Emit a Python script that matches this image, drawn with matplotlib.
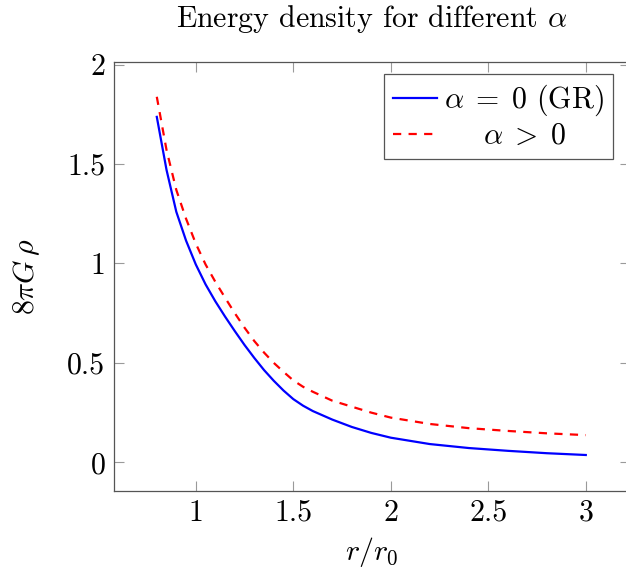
import matplotlib
matplotlib.use("Agg")
import matplotlib.pyplot as plt

plt.rcParams['font.family'] = ['cmr10', 'DejaVu Serif']
plt.rcParams['mathtext.fontset'] = 'cm'
plt.rcParams['axes.formatter.use_mathtext'] = True

# data
r = [0.8, 0.85, 0.9, 0.95, 1.0, 1.05, 1.1, 1.15, 1.2, 1.25, 1.3, 1.35, 1.4,
     1.45, 1.5, 1.55, 1.6, 1.7, 1.8, 1.9, 2.0, 2.2, 2.4, 2.6, 2.8, 3.0]
rho_gr = [1.737, 1.47, 1.26, 1.115, 0.995, 0.895, 0.81, 0.733, 0.66, 0.59,
          0.525, 0.464, 0.41, 0.361, 0.318, 0.285, 0.258, 0.215, 0.178, 0.148,
          0.124, 0.092, 0.072, 0.058, 0.046, 0.037]
rho_alpha = [1.838, 1.57, 1.37, 1.225, 1.10, 0.995, 0.908, 0.828, 0.75, 0.677,
             0.61, 0.552, 0.50, 0.455, 0.412, 0.38, 0.355, 0.31, 0.28, 0.25,
             0.225, 0.193, 0.172, 0.158, 0.146, 0.137]
xticks = [1, 1.5, 2, 2.5, 3]
xticklabels = ['1', '1.5', '2', '2.5', '3']
yticks = [0, 0.5, 1, 1.5, 2]
yticklabels = ['0', '0.5', '1', '1.5', '2']
labels = [r'$\alpha\;=\;0$ (GR)', r'$\alpha\;>\;0$']

W, H = 626, 581
fig = plt.figure(figsize=(W / 100, H / 100), dpi=100)
xmin, xmax = 0.579, 3.225
ymin, ymax = -0.144, 2.014
left_px, bottom_px = 113.7, 491.0
ppx, ppy = 195.0, 198.9
ax = fig.add_axes([left_px / W, (H - bottom_px) / H,
                   (xmax - xmin) * ppx / W, (ymax - ymin) * ppy / H])

ax.plot(r, rho_gr, color='#0000ff', lw=1.6, label=labels[0])
ax.plot(r, rho_alpha, color='#ff0000', lw=1.6, linestyle=(0, (3.7, 3.3)),
        label=labels[1])

ax.set_xlim(xmin, xmax)
ax.set_ylim(ymin, ymax)
ax.set_xticks(xticks)
ax.set_xticklabels(xticklabels)
ax.set_yticks(yticks)
ax.set_yticklabels(yticklabels)

fs = 21.5
ax.tick_params(direction='in', length=7.5, width=0.8, color='#9a9a9a',
               top=True, right=True, labelsize=fs, pad=6)
for s in ax.spines.values():
    s.set_color('#555555')
    s.set_linewidth(0.9)

ax.set_title(r'Energy density for different $\alpha$', fontsize=fs, pad=25)
ax.set_xlabel(r'$r/r_0$', fontsize=fs, labelpad=6)
ax.set_ylabel(r'$8\pi G\,\rho$', fontsize=fs, labelpad=18)

leg = ax.legend(loc='upper right',
                bbox_to_anchor=((613 - left_px) / ((xmax - xmin) * ppx),
                                (bottom_px - 74) / ((ymax - ymin) * ppy)),
                borderaxespad=0, fontsize=fs, fancybox=False, framealpha=1,
                edgecolor='#555555', handlelength=1.45, handletextpad=0.25,
                labelspacing=0.15, borderpad=0.3)
leg.get_frame().set_linewidth(0.9)

fig.canvas.draw()
texts = leg.get_texts()
ren = fig.canvas.get_renderer()
w = [t.get_window_extent(ren).width for t in texts]
wmax = max(w)
for t, wi in zip(texts, w):
    t.set_x((wmax - wi) / 2)

fig.savefig('out.png', dpi=100)
